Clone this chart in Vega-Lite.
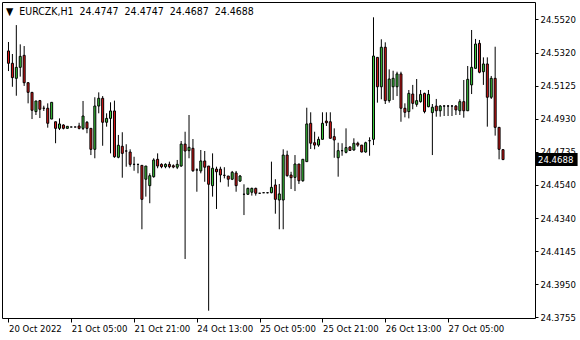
{
  "$schema": "https://vega.github.io/schema/vega-lite/v6.json",
  "width": 533,
  "height": 316,
  "autosize": "none",
  "padding": {"left": 2, "top": 2, "right": 45, "bottom": 22},
  "background": "white",
  "title": {
    "text": "▼\u00a0\u00a0EURCZK,H1\u00a0\u00a024.4747\u00a0\u00a024.4747\u00a0\u00a024.4687\u00a0\u00a024.4688",
    "anchor": "start",
    "frame": "group",
    "orient": "top",
    "offset": -23,
    "baseline": "alphabetic",
    "dx": 4,
    "font": "DejaVu Sans Condensed",
    "fontSize": 10.5,
    "fontWeight": "normal",
    "color": "black"
  },
  "config": {
    "view": {"stroke": "black", "strokeWidth": 1},
    "axis": {
      "domain": false,
      "grid": false,
      "tickColor": "black",
      "tickWidth": 1,
      "labelColor": "black",
      "labelFont": "DejaVu Sans Condensed",
      "labelFontSize": 9.5,
      "labelOverlap": false,
      "labelFlush": false,
      "title": null
    }
  },
  "datasets": {
    "bars": [
      {"i":0,"o":24.5331,"h":24.5384,"l":24.5212,"c":24.5258},
      {"i":1,"o":24.5258,"h":24.5313,"l":24.5119,"c":24.5173},
      {"i":2,"o":24.5169,"h":24.5484,"l":24.5066,"c":24.5234},
      {"i":3,"o":24.5234,"h":24.5370,"l":24.5179,"c":24.5299},
      {"i":4,"o":24.5305,"h":24.5360,"l":24.5124,"c":24.5143},
      {"i":5,"o":24.5143,"h":24.5147,"l":24.5021,"c":24.5086},
      {"i":6,"o":24.5086,"h":24.5088,"l":24.4928,"c":24.4980},
      {"i":7,"o":24.4972,"h":24.5035,"l":24.4952,"c":24.5035},
      {"i":8,"o":24.5037,"h":24.5041,"l":24.4934,"c":24.4986},
      {"i":9,"o":24.4992,"h":24.5007,"l":24.4976,"c":24.4992},
      {"i":10,"o":24.4992,"h":24.5021,"l":24.4877,"c":24.4903},
      {"i":11,"o":24.4928,"h":24.5027,"l":24.4928,"c":24.5027},
      {"i":12,"o":24.4912,"h":24.4912,"l":24.4785,"c":24.4873},
      {"i":13,"o":24.4873,"h":24.4932,"l":24.4863,"c":24.4899},
      {"i":14,"o":24.4893,"h":24.4897,"l":24.4867,"c":24.4873},
      {"i":15,"o":24.4873,"h":24.4885,"l":24.4873,"c":24.4885},
      {"i":16,"o":24.4881,"h":24.4882,"l":24.4880,"c":24.4881},
      {"i":17,"o":24.4881,"h":24.4882,"l":24.4880,"c":24.4881},
      {"i":18,"o":24.4887,"h":24.4906,"l":24.4867,"c":24.4873},
      {"i":19,"o":24.4873,"h":24.5035,"l":24.4863,"c":24.4946},
      {"i":20,"o":24.4909,"h":24.4916,"l":24.4844,"c":24.4873},
      {"i":21,"o":24.4873,"h":24.4875,"l":24.4715,"c":24.4749},
      {"i":22,"o":24.4749,"h":24.5057,"l":24.4696,"c":24.5005},
      {"i":23,"o":24.5005,"h":24.5086,"l":24.4962,"c":24.5051},
      {"i":24,"o":24.5051,"h":24.5064,"l":24.4770,"c":24.4909},
      {"i":25,"o":24.4909,"h":24.4962,"l":24.4883,"c":24.4932},
      {"i":26,"o":24.4932,"h":24.5027,"l":24.4725,"c":24.4976},
      {"i":27,"o":24.4976,"h":24.5037,"l":24.4699,"c":24.4705},
      {"i":28,"o":24.4702,"h":24.4834,"l":24.4696,"c":24.4773},
      {"i":29,"o":24.4767,"h":24.4850,"l":24.4581,"c":24.4725},
      {"i":30,"o":24.4739,"h":24.4779,"l":24.4646,"c":24.4739},
      {"i":31,"o":24.4733,"h":24.4749,"l":24.4646,"c":24.4660},
      {"i":32,"o":24.4660,"h":24.4705,"l":24.4622,"c":24.4660},
      {"i":33,"o":24.4660,"h":24.4661,"l":24.4607,"c":24.4660},
      {"i":34,"o":24.4654,"h":24.4654,"l":24.4276,"c":24.4453},
      {"i":35,"o":24.4572,"h":24.4650,"l":24.4469,"c":24.4650},
      {"i":36,"o":24.4534,"h":24.4607,"l":24.4430,"c":24.4593},
      {"i":37,"o":24.4587,"h":24.4696,"l":24.4581,"c":24.4686},
      {"i":38,"o":24.4690,"h":24.4725,"l":24.4637,"c":24.4650},
      {"i":39,"o":24.4660,"h":24.4666,"l":24.4637,"c":24.4646},
      {"i":40,"o":24.4646,"h":24.4666,"l":24.4637,"c":24.4660},
      {"i":41,"o":24.4660,"h":24.4676,"l":24.4637,"c":24.4646},
      {"i":42,"o":24.4652,"h":24.4660,"l":24.4637,"c":24.4644},
      {"i":43,"o":24.4643,"h":24.4686,"l":24.4632,"c":24.4660},
      {"i":44,"o":24.4650,"h":24.4798,"l":24.4646,"c":24.4780},
      {"i":45,"o":24.4780,"h":24.4853,"l":24.4100,"c":24.4739},
      {"i":46,"o":24.4741,"h":24.4952,"l":24.4696,"c":24.4761},
      {"i":47,"o":24.4755,"h":24.4810,"l":24.4616,"c":24.4622},
      {"i":48,"o":24.4627,"h":24.4637,"l":24.4498,"c":24.4627},
      {"i":49,"o":24.4621,"h":24.4745,"l":24.4607,"c":24.4680},
      {"i":50,"o":24.4680,"h":24.4739,"l":24.4557,"c":24.4643},
      {"i":51,"o":24.4650,"h":24.4650,"l":24.3794,"c":24.4542},
      {"i":52,"o":24.4534,"h":24.4725,"l":24.4469,"c":24.4637},
      {"i":53,"o":24.4632,"h":24.4646,"l":24.4396,"c":24.4616},
      {"i":54,"o":24.4632,"h":24.4646,"l":24.4554,"c":24.4597},
      {"i":55,"o":24.4595,"h":24.4643,"l":24.4577,"c":24.4595},
      {"i":56,"o":24.4591,"h":24.4591,"l":24.4528,"c":24.4572},
      {"i":57,"o":24.4572,"h":24.4621,"l":24.4567,"c":24.4613},
      {"i":58,"o":24.4609,"h":24.4621,"l":24.4498,"c":24.4534},
      {"i":59,"o":24.4561,"h":24.4597,"l":24.4556,"c":24.4591},
      {"i":60,"o":24.4483,"h":24.4542,"l":24.4360,"c":24.4483},
      {"i":61,"o":24.4483,"h":24.4522,"l":24.4479,"c":24.4518},
      {"i":62,"o":24.4495,"h":24.4522,"l":24.4475,"c":24.4518},
      {"i":63,"o":24.4518,"h":24.4522,"l":24.4475,"c":24.4489},
      {"i":64,"o":24.4489,"h":24.4491,"l":24.4487,"c":24.4489},
      {"i":65,"o":24.4492,"h":24.4493,"l":24.4491,"c":24.4492},
      {"i":66,"o":24.4492,"h":24.4494,"l":24.4489,"c":24.4492},
      {"i":67,"o":24.4492,"h":24.4676,"l":24.4489,"c":24.4524},
      {"i":68,"o":24.4538,"h":24.4572,"l":24.4368,"c":24.4453},
      {"i":69,"o":24.4449,"h":24.4544,"l":24.4276,"c":24.4485},
      {"i":70,"o":24.4449,"h":24.4749,"l":24.4276,"c":24.4715},
      {"i":71,"o":24.4715,"h":24.4741,"l":24.4587,"c":24.4593},
      {"i":72,"o":24.4597,"h":24.4616,"l":24.4514,"c":24.4581},
      {"i":73,"o":24.4583,"h":24.4715,"l":24.4502,"c":24.4662},
      {"i":74,"o":24.4662,"h":24.4662,"l":24.4544,"c":24.4563},
      {"i":75,"o":24.4563,"h":24.4690,"l":24.4557,"c":24.4690},
      {"i":76,"o":24.4676,"h":24.4995,"l":24.4676,"c":24.4899},
      {"i":77,"o":24.4903,"h":24.4968,"l":24.4751,"c":24.4785},
      {"i":78,"o":24.4788,"h":24.4853,"l":24.4749,"c":24.4774},
      {"i":79,"o":24.4774,"h":24.4824,"l":24.4764,"c":24.4808},
      {"i":80,"o":24.4808,"h":24.4968,"l":24.4808,"c":24.4903},
      {"i":81,"o":24.4916,"h":24.4968,"l":24.4887,"c":24.4906},
      {"i":82,"o":24.4912,"h":24.4968,"l":24.4814,"c":24.4814},
      {"i":83,"o":24.4824,"h":24.4873,"l":24.4699,"c":24.4804},
      {"i":84,"o":24.4699,"h":24.4788,"l":24.4587,"c":24.4741},
      {"i":85,"o":24.4741,"h":24.4785,"l":24.4711,"c":24.4741},
      {"i":86,"o":24.4731,"h":24.4873,"l":24.4725,"c":24.4759},
      {"i":87,"o":24.4763,"h":24.4767,"l":24.4739,"c":24.4742},
      {"i":88,"o":24.4745,"h":24.4814,"l":24.4741,"c":24.4785},
      {"i":89,"o":24.4785,"h":24.4794,"l":24.4764,"c":24.4774},
      {"i":90,"o":24.4774,"h":24.4774,"l":24.4731,"c":24.4733},
      {"i":91,"o":24.4733,"h":24.4794,"l":24.4729,"c":24.4788},
      {"i":92,"o":24.4800,"h":24.4820,"l":24.4711,"c":24.4800},
      {"i":93,"o":24.4808,"h":24.5530,"l":24.4774,"c":24.5301},
      {"i":94,"o":24.5293,"h":24.5293,"l":24.5025,"c":24.5119},
      {"i":95,"o":24.5119,"h":24.5400,"l":24.5045,"c":24.5353},
      {"i":96,"o":24.5353,"h":24.5382,"l":24.5017,"c":24.5037},
      {"i":97,"o":24.5037,"h":24.5222,"l":24.5025,"c":24.5165},
      {"i":98,"o":24.5119,"h":24.5214,"l":24.5041,"c":24.5169},
      {"i":99,"o":24.5119,"h":24.5208,"l":24.5064,"c":24.5195},
      {"i":100,"o":24.5195,"h":24.5208,"l":24.4912,"c":24.4992},
      {"i":101,"o":24.4992,"h":24.5021,"l":24.4938,"c":24.4968},
      {"i":102,"o":24.4972,"h":24.5100,"l":24.4932,"c":24.5080},
      {"i":103,"o":24.5076,"h":24.5130,"l":24.4986,"c":24.5021},
      {"i":104,"o":24.5015,"h":24.5165,"l":24.5001,"c":24.5037},
      {"i":105,"o":24.5031,"h":24.5100,"l":24.5025,"c":24.5074},
      {"i":106,"o":24.5080,"h":24.5084,"l":24.4962,"c":24.4972},
      {"i":107,"o":24.5001,"h":24.5100,"l":24.4998,"c":24.5074},
      {"i":108,"o":24.4966,"h":24.5017,"l":24.4715,"c":24.4998},
      {"i":109,"o":24.5005,"h":24.5047,"l":24.4942,"c":24.4977},
      {"i":110,"o":24.4977,"h":24.5011,"l":24.4942,"c":24.5005},
      {"i":111,"o":24.5005,"h":24.5011,"l":24.4946,"c":24.5005},
      {"i":112,"o":24.5005,"h":24.5011,"l":24.4946,"c":24.5005},
      {"i":113,"o":24.5005,"h":24.5011,"l":24.4946,"c":24.5005},
      {"i":114,"o":24.5005,"h":24.5011,"l":24.4952,"c":24.4982},
      {"i":115,"o":24.4977,"h":24.5045,"l":24.4952,"c":24.5031},
      {"i":116,"o":24.5031,"h":24.5159,"l":24.4936,"c":24.4977},
      {"i":117,"o":24.4977,"h":24.5242,"l":24.4977,"c":24.5163},
      {"i":118,"o":24.5130,"h":24.5455,"l":24.5076,"c":24.5234},
      {"i":119,"o":24.5228,"h":24.5402,"l":24.5228,"c":24.5372},
      {"i":120,"o":24.5376,"h":24.5396,"l":24.5199,"c":24.5205},
      {"i":121,"o":24.5208,"h":24.5293,"l":24.5130,"c":24.5254},
      {"i":122,"o":24.5254,"h":24.5293,"l":24.4883,"c":24.5057},
      {"i":123,"o":24.5057,"h":24.5183,"l":24.5047,"c":24.5169},
      {"i":124,"o":24.5169,"h":24.5356,"l":24.4830,"c":24.4879},
      {"i":125,"o":24.4879,"h":24.4879,"l":24.4690,"c":24.4749},
      {"i":126,"o":24.4747,"h":24.4747,"l":24.4687,"c":24.4688}
    ],
    "last": [{"price": 24.4688, "label": "24.4688"}]
  },
  "layer": [
    {
      "data": {"name": "bars"},
      "mark": {"type": "rule", "color": "black", "strokeWidth": 1},
      "encoding": {
        "x": {
          "field": "i", "type": "quantitative",
          "scale": {"domain": [-0.375, 132.875], "nice": false, "zero": false},
          "axis": {
            "orient": "bottom",
            "values": [0, 16, 32, 48, 64, 80, 96, 112],
            "tickCount": 30,
            "tickSize": 4,
            "labelAlign": "left",
            "labelBaseline": "top",
            "labelPadding": 1,
            "labelOverlap": false,
            "labelExpr": "['20 Oct 2022','21 Oct 05:00','21 Oct 21:00','24 Oct 13:00','25 Oct 05:00','25 Oct 21:00','26 Oct 13:00','27 Oct 05:00'][round(datum.value/16)]"
          }
        },
        "y": {
          "field": "l", "type": "quantitative",
          "scale": {"domain": [24.37509, 24.56206], "nice": false, "zero": false},
          "axis": {
            "orient": "right",
            "values": [24.3755, 24.395, 24.4145, 24.434, 24.454, 24.4735, 24.493, 24.5125, 24.532, 24.552],
            "tickCount": 30,
            "format": ".4f",
            "tickSize": 3,
            "labelPadding": 2,
            "labelBaseline": "middle",
            "labelOverlap": false
          }
        },
        "y2": {"field": "h"}
      }
    },
    {
      "data": {"name": "bars"},
      "mark": {"type": "bar", "size": 2, "stroke": "black", "strokeWidth": 1},
      "encoding": {
        "x": {"field": "i", "type": "quantitative"},
        "y": {"field": "o", "type": "quantitative"},
        "y2": {"field": "c"},
        "fill": {
          "condition": {"test": "datum.c < datum.o", "value": "#e01818"},
          "value": "#3ccc3c"
        }
      }
    },
    {
      "data": {"name": "last"},
      "mark": {
        "type": "point",
        "shape": "M0,-0.5H3.2V0.5H0Z",
        "filled": true,
        "color": "black",
        "opacity": 1,
        "size": 676,
        "xOffset": 1
      },
      "encoding": {
        "x": {"value": "width"},
        "y": {"field": "price", "type": "quantitative"}
      }
    },
    {
      "data": {"name": "last"},
      "mark": {
        "type": "text",
        "color": "white",
        "align": "left",
        "baseline": "middle",
        "dx": 3,
        "font": "DejaVu Sans Condensed",
        "fontSize": 9.5
      },
      "encoding": {
        "x": {"value": "width"},
        "y": {"field": "price", "type": "quantitative"},
        "text": {"field": "label"}
      }
    }
  ]
}
